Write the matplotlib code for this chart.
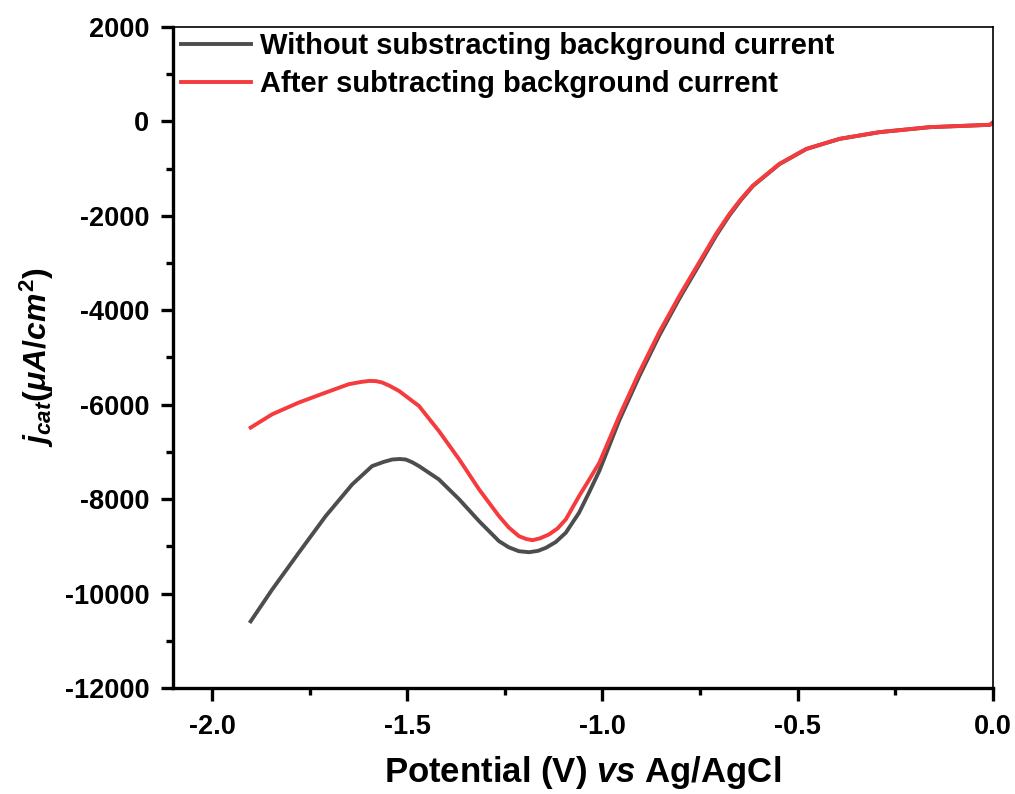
import numpy as np
import matplotlib.pyplot as plt
from matplotlib.ticker import MultipleLocator

plt.rcParams['font.family'] = 'Liberation Sans'
plt.rcParams['font.weight'] = 'bold'
plt.rcParams['axes.unicode_minus'] = False
plt.rcParams['mathtext.fontset'] = 'custom'
plt.rcParams['mathtext.rm'] = 'Liberation Sans:bold'
plt.rcParams['mathtext.it'] = 'Liberation Sans:bold:italic'
plt.rcParams['mathtext.bf'] = 'Liberation Sans:bold'

# potential (V) and current density (uA/cm2)
v_raw = [-1.901, -1.846, -1.778, -1.709, -1.641, -1.590, -1.560, -1.538, -1.520,
         -1.504, -1.487, -1.470, -1.419, -1.367, -1.316, -1.265, -1.240, -1.214,
         -1.188, -1.165, -1.145, -1.120, -1.094, -1.060, -1.035, -1.008, -0.957,
         -0.906, -0.855, -0.803, -0.752, -0.709, -0.675, -0.645, -0.615, -0.547,
         -0.478, -0.393, -0.291, -0.162, -0.008, 0.000]
j_raw = [-10588, -9915, -9137, -8360, -7688, -7300, -7210, -7160, -7150,
         -7160, -7220, -7300, -7582, -8004, -8466, -8890, -9020, -9103,
         -9124, -9095, -9031, -8910, -8712, -8288, -7870, -7400, -6330,
         -5400, -4540, -3750, -3030, -2420, -1990, -1660, -1370, -905,
         -585, -370, -228, -122, -72, -20]

v_sub = [-1.901, -1.846, -1.778, -1.709, -1.650, -1.620, -1.598, -1.580, -1.564,
         -1.545, -1.521, -1.470, -1.419, -1.367, -1.316, -1.265, -1.240, -1.214,
         -1.195, -1.179, -1.160, -1.137, -1.115, -1.094, -1.060, -1.035, -1.008,
         -0.957, -0.906, -0.855, -0.803, -0.752, -0.709, -0.675, -0.645, -0.615,
         -0.547, -0.478, -0.393, -0.291, -0.162, -0.008, 0.000]
j_sub = [-6485, -6203, -5955, -5743, -5566, -5520, -5496, -5500, -5530,
         -5600, -5709, -6027, -6557, -7157, -7794, -8360, -8600, -8784,
         -8845, -8869, -8830, -8748, -8620, -8430, -7936, -7600, -7227,
         -6238, -5318, -4470, -3693, -2980, -2380, -1960, -1640, -1360,
         -899, -581, -369, -227, -121, -72, -20]

fig = plt.figure(figsize=(10.15, 7.94), dpi=100)
ax = fig.add_axes([0.1704, 0.1335, 0.8079, 0.8325])

ax.plot(v_raw, j_raw, color='#4d4d4d', lw=2.8, solid_joinstyle='round',
        label='Without substracting background current')
ax.plot(v_sub, j_sub, color='#f63b3e', lw=2.8, solid_joinstyle='round',
        label='After subtracting background current')

ax.set_xlim(-2.1, 0.0)
ax.set_ylim(-12000, 2000)
ax.set_xticks([-2.0, -1.5, -1.0, -0.5, 0.0])
ax.set_xticklabels(['-2.0', '-1.5', '-1.0', '-0.5', '0.0'])
ax.xaxis.set_minor_locator(MultipleLocator(0.25))
ax.yaxis.set_major_locator(MultipleLocator(2000))
ax.yaxis.set_minor_locator(MultipleLocator(1000))
ax.tick_params(which='major', direction='out', length=9, width=2.4, labelsize=19.5, pad=8)
ax.tick_params(which='minor', direction='out', length=5, width=2.4)
ax.tick_params(axis='x', which='major', pad=10)

for s in ['left', 'bottom']:
    ax.spines[s].set_linewidth(2.4)
for s in ['top', 'right']:
    ax.spines[s].set_linewidth(1.2)

ax.set_xlabel(r'Potential (V) $vs$ Ag/AgCl', fontsize=25, fontweight='bold', labelpad=10)
ax.set_ylabel(r'$j_{cat}(\mu A/cm^2)$', fontsize=23, labelpad=6)

ax.legend(loc='upper left', bbox_to_anchor=(0.006, 0.997), frameon=False, fontsize=21,
          handlelength=2.4, handletextpad=0.3, borderaxespad=0.0, borderpad=0.1,
          labelspacing=0.36)

plt.savefig('out.png')
